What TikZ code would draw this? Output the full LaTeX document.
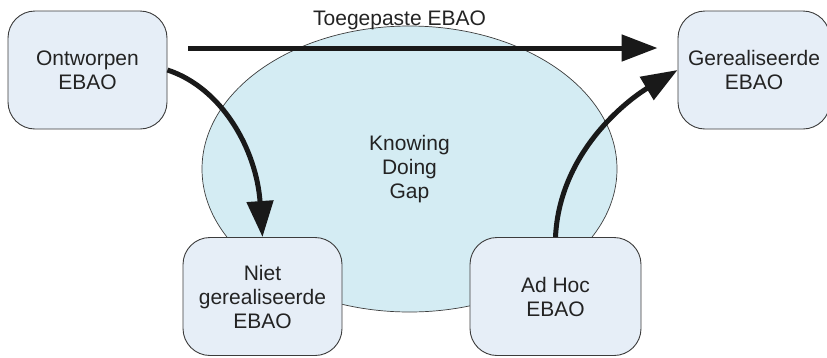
\documentclass[tikz,border=0pt]{standalone}
\usepackage{fontspec}
\setmainfont{Liberation Sans}
\usetikzlibrary{arrows.meta,shapes.geometric}
\definecolor{boxfill}{RGB}{230,238,247}
\definecolor{gapfill}{RGB}{212,236,243}
\definecolor{edge}{RGB}{60,60,60}
\definecolor{ink}{RGB}{35,35,35}
\begin{document}
\begin{tikzpicture}[x=1pt, y=-1pt,
        txt/.style={font=\fontsize{21}{24}\selectfont, text=ink, align=center},
        ebao/.style={txt, draw=edge, line width=0.9pt, fill=boxfill, rounded corners=27pt,
            minimum width=159pt, minimum height=118pt, inner sep=0pt},
        flow/.style={line width=5pt, draw=black!90, -{Triangle[length=36pt,width=26pt]}}]
        \useasboundingbox (0,0) rectangle (827,357);
        \node[txt, ellipse, draw=edge, line width=0.7pt, fill=gapfill,
            minimum width=415pt, minimum height=286pt] (gap) at (409.5,169) {Knowing\\Doing\\Gap};
        \node[ebao] (ont) at (87.5,70) {Ontworpen\\EBAO};
        \node[ebao, minimum width=152pt] (ger) at (754,70) {Gerealiseerde\\EBAO};
        \node[ebao] (niet) at (262.5,296.5) {Niet\\gerealiseerde\\EBAO};
        \node[ebao, minimum width=171pt] (adhoc) at (555.5,296.5) {Ad Hoc\\EBAO};
        \draw[flow, shorten <=21pt, shorten >=20pt] ([yshift=22pt]ont.east) -- ([yshift=22pt]ger.west)
            node[txt, pos=0.455, above=12pt] (toeg) {Toegepaste EBAO};
        \draw[flow] (ont.east) .. controls +(55,18) and +(-6,-87) .. (niet.north);
        \draw[flow] (adhoc.north) .. controls +(4,-85) and +(-50,30) .. (ger.west);
    \end{tikzpicture}
\end{document}
